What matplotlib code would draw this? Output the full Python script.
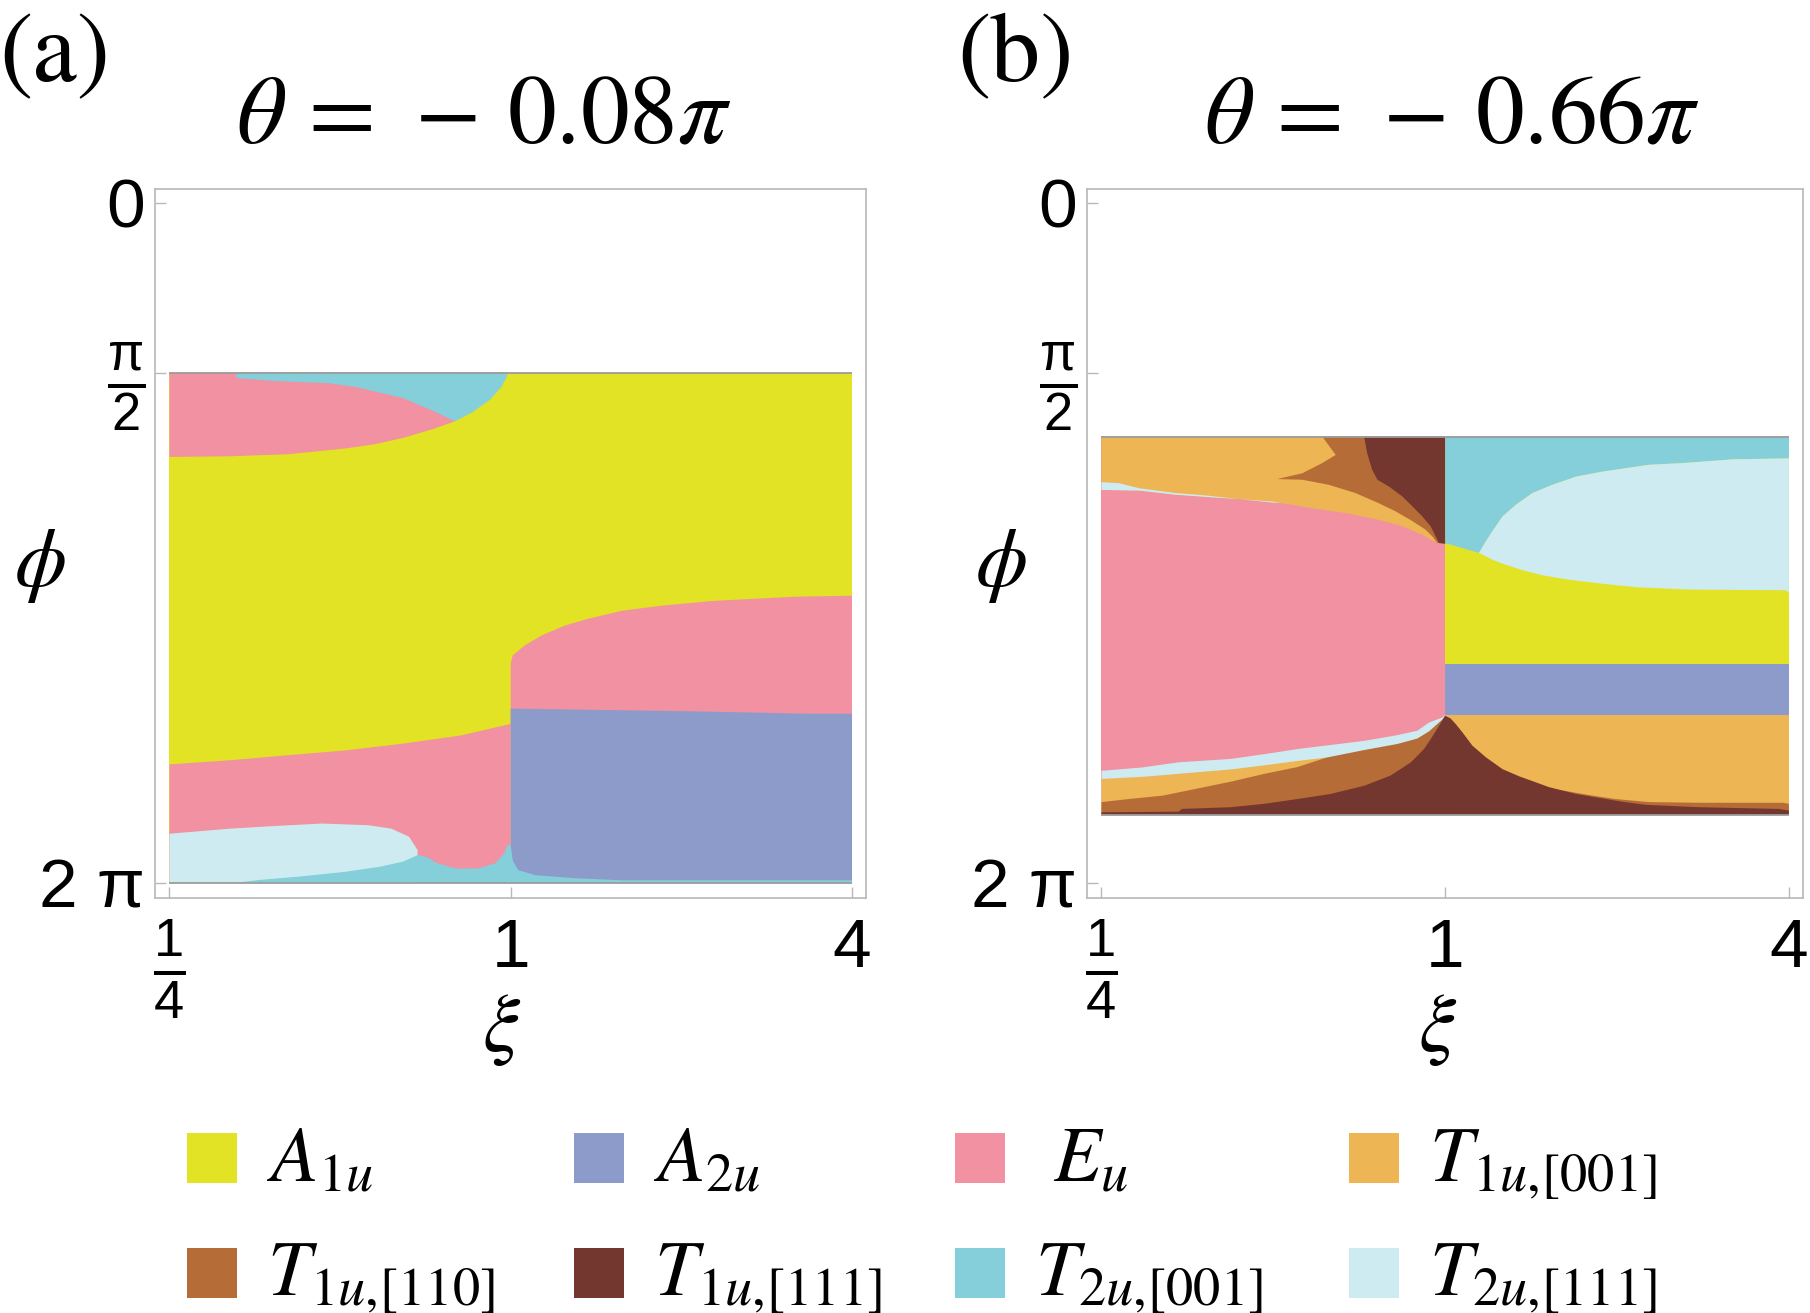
import numpy as np
import matplotlib
matplotlib.use("Agg")
import matplotlib.pyplot as plt
from matplotlib import font_manager
from matplotlib.patches import Rectangle
from matplotlib.ticker import NullLocator

names = {f.name for f in font_manager.fontManager.ttflist}
SANS = 'Liberation Sans Narrow' if 'Liberation Sans Narrow' in names else 'Liberation Sans'
plt.rcParams['mathtext.fontset'] = 'custom'
plt.rcParams['mathtext.rm'] = SANS
plt.rcParams['mathtext.it'] = SANS + ':italic'

# colours of the irreps
COLORS = {'A1u': '#e2e324', 'A2u': '#8c9bc9', 'Eu': '#f191a1', 'T1u001': '#edb553',
          'T1u110': '#b56c37', 'T1u111': '#74372f', 'T2u001': '#84cfd9', 'T2u111': '#cdebf0'}
LEGEND_KEYS = ['A1u', 'A2u', 'Eu', 'T1u001', 'T1u110', 'T1u111', 'T2u001', 'T2u111']
LEGEND_LABELS = [r'$A_{1u}$', r'$A_{2u}$', r'$E_{u}$', r'$T_{1u,\![001]}$',
                 r'$T_{1u,\![110]}$', r'$T_{1u,\![111]}$', r'$T_{2u,\![001]}$', r'$T_{2u,\![111]}$']
TITLES = [r'$\theta\,=\,-\,0.08\pi$', r'$\theta\,=\,-\,0.66\pi$']

# ---- panel (a): phase boundaries, xi and phi/pi ----
A_XI = [0.25, 4.0]
A_PHI = [0.5, 2.0]
# yellow / pink, lower left
XI_A_YP_L = [0.25, 0.320, 0.405, 0.511, 0.646, 0.817, 1.0]
PH_A_YP_L = [1.652, 1.640, 1.625, 1.611, 1.591, 1.567, 1.533]
# yellow / pink, right
XI_A_YP_R = [1.0, 1.008, 1.057, 1.133, 1.245, 1.368, 1.574, 1.853, 2.288, 3.178, 4.0]
PH_A_YP_R = [1.356, 1.332, 1.303, 1.273, 1.244, 1.224, 1.200, 1.185, 1.171, 1.159, 1.156]
# pink / yellow, upper left
XI_A_PT = [0.25, 0.320, 0.405, 0.511, 0.574, 0.646, 0.726, 0.798]
PH_A_PT = [0.748, 0.746, 0.740, 0.723, 0.711, 0.692, 0.667, 0.643]
# cyan wedge at the top
XI_A_CW_LO = [0.328, 0.386, 0.477, 0.536, 0.646, 0.726, 0.798]
PH_A_CW_LO = [0.516, 0.525, 0.531, 0.543, 0.575, 0.611, 0.643]
XI_A_CW_HI = [0.798, 0.855, 0.919, 0.962, 0.986]
PH_A_CW_HI = [0.643, 0.617, 0.580, 0.543, 0.510]
# pink / blue
XI_A_PB = [1.0, 2.085, 3.33, 4.0]
PH_A_PB = [1.488, 1.496, 1.503, 1.503]
# pink / light cyan
XI_A_LC = [0.25, 0.320, 0.386, 0.465, 0.561, 0.616, 0.662, 0.685]
PH_A_LC = [1.856, 1.841, 1.833, 1.826, 1.831, 1.841, 1.865, 1.904]
# top of the cyan strip at the bottom
XI_A_CB = [0.328, 0.360, 0.424, 0.511, 0.588, 0.646, 0.685, 0.710, 0.743, 0.798, 0.877,
           0.939, 0.974, 0.986, 1.0, 1.008, 1.031, 1.107, 1.305, 1.574, 4.0]
PH_A_CB = [2.0, 1.992, 1.982, 1.968, 1.953, 1.938, 1.919, 1.924, 1.943, 1.958, 1.958,
           1.943, 1.914, 1.890, 1.890, 1.934, 1.963, 1.978, 1.987, 1.993, 1.993]

# ---- panel (b) ----
B_XI = [0.25, 4.0]
B_PHI = [0.688, 1.80]
# pink top (orange / light cyan above it)
XI_B_PK_T = [0.25, 0.291, 0.337, 0.385, 0.435, 0.498, 0.518, 0.585, 0.669, 0.765, 0.841, 0.912, 0.969, 1.0]
PH_B_PK_T = [0.845, 0.847, 0.859, 0.866, 0.872, 0.882, 0.884, 0.899, 0.913, 0.933, 0.952, 0.977, 1.001, 1.003]
# thin light cyan sliver above pink
XI_B_LC_T = [0.25, 0.268, 0.291, 0.337, 0.385, 0.435, 0.498, 0.518]
PH_B_LC_T = [0.822, 0.825, 0.840, 0.854, 0.862, 0.872, 0.879, 0.884]
# brown wedge, upper left
XI_B_BR_UP = [0.508, 0.562, 0.609, 0.643, 0.609]
PH_B_BR_UP = [0.813, 0.796, 0.766, 0.742, 0.688]
XI_B_BR_LO = [0.508, 0.562, 0.626, 0.696, 0.765, 0.819, 0.877, 0.924, 0.950, 0.969, 1.0]
PH_B_BR_LO = [0.813, 0.815, 0.830, 0.854, 0.884, 0.908, 0.937, 0.962, 0.982, 1.001, 1.003]
# dark brown, upper left
XI_B_DB_T = [0.721, 0.730, 0.745, 0.761, 0.797, 0.841, 0.877, 0.912, 0.943, 0.975, 1.0]
PH_B_DB_T = [0.688, 0.737, 0.786, 0.815, 0.835, 0.864, 0.894, 0.923, 0.952, 1.001, 1.003]
# cyan / light cyan, right
XI_B_CL = [1.146, 1.178, 1.209, 1.260, 1.329, 1.422, 1.541, 1.693, 1.887, 2.071, 2.275, 2.606, 3.187, 4.0]
PH_B_CL = [1.030, 0.996, 0.967, 0.923, 0.889, 0.854, 0.830, 0.806, 0.791, 0.781, 0.771, 0.766, 0.755, 0.752]
XI_B_CY = [1.0, 1.072, 1.146]
PH_B_CY = [1.001, 1.016, 1.030]
# light cyan / yellow, right
XI_B_LY = [1.146, 1.209, 1.276, 1.366, 1.480, 1.647, 1.887, 2.158, 2.676, 3.95, 4.0]
PH_B_LY = [1.030, 1.050, 1.065, 1.081, 1.096, 1.109, 1.121, 1.131, 1.138, 1.140, 1.148]
# flat bands, right
PH_B_BLUE = [1.356, 1.508]
# pink bottom, left
XI_B_PK_B = [0.25, 0.295, 0.341, 0.421, 0.482, 0.551, 0.630, 0.721, 0.825, 0.894, 0.937, 0.989, 1.0]
PH_B_PK_B = [1.671, 1.661, 1.646, 1.636, 1.622, 1.607, 1.595, 1.583, 1.566, 1.553, 1.529, 1.514, 1.507]
# light cyan / orange, lower left
XI_B_LO = [0.25, 0.299, 0.351, 0.421, 0.482, 0.551, 0.620]
PH_B_LO = [1.695, 1.688, 1.678, 1.667, 1.655, 1.642, 1.632]
# top of brown, lower left
XI_B_BR_B = [0.25, 0.279, 0.320, 0.366, 0.421, 0.482, 0.551, 0.620, 0.721, 0.825, 0.894, 0.937, 0.989, 1.0]
PH_B_BR_B = [1.763, 1.754, 1.744, 1.724, 1.703, 1.680, 1.660, 1.632, 1.610, 1.592, 1.576, 1.555, 1.520, 1.509]
# thin brown band, lower right
XI_B_BR_R = [1.520, 1.647, 1.813, 1.988, 2.275, 2.786, 3.90, 4.0]
PH_B_BR_R = [1.722, 1.732, 1.744, 1.754, 1.763, 1.765, 1.765, 1.768]
# dark brown, bottom
XI_B_DB_B = [0.25, 0.341, 0.346, 0.421, 0.482, 0.551, 0.630, 0.721, 0.802, 0.871, 0.918, 0.943, 0.975, 1.0,
             1.022, 1.044, 1.072, 1.116, 1.178, 1.260, 1.347, 1.442, 1.520, 1.693, 1.835, 2.045, 2.247,
             2.786, 3.848, 4.0]
PH_B_DB_B = [1.793, 1.791, 1.783, 1.778, 1.768, 1.754, 1.739, 1.715, 1.685, 1.646, 1.607, 1.578, 1.539, 1.509,
             1.517, 1.534, 1.558, 1.597, 1.631, 1.666, 1.687, 1.705, 1.719, 1.739, 1.749, 1.762, 1.771,
             1.778, 1.783, 1.788]


def region(ax, xi, ph, key):
    ax.fill(xi, np.pi * np.asarray(ph), color=COLORS[key], lw=0, antialiased=True)


W, H = 1810, 1313
fig = plt.figure(figsize=(W / 100, H / 100), dpi=100)
ax_a = fig.add_axes([155 / W, 1 - 898 / H, 711 / W, 709 / H])
ax_b = fig.add_axes([1087 / W, 1 - 898 / H, 716 / W, 709 / H])

#------ panel (a)
ax = ax_a
region(ax, [0.25, 4, 4, 0.25], [0.5, 0.5, 2, 2], 'A1u')
region(ax, XI_A_YP_L + [1.0, 0.25], PH_A_YP_L + [2, 2], 'Eu')
region(ax, XI_A_YP_R + [4.0, 1.0], PH_A_YP_R + [2, 2], 'Eu')
region(ax, [0.25, 0.798] + XI_A_PT[::-1], [0.5, 0.5] + PH_A_PT[::-1], 'Eu')
region(ax, [0.328] + XI_A_CW_LO + XI_A_CW_HI[1:] + [0.986], [0.5] + PH_A_CW_LO + PH_A_CW_HI[1:] + [0.5], 'T2u001')
region(ax, XI_A_PB + [4.0, 1.0], PH_A_PB + [2, 2], 'A2u')
region(ax, XI_A_LC + [0.685, 0.25], PH_A_LC + [2, 2], 'T2u111')
region(ax, XI_A_CB + [4.0], PH_A_CB + [2.0], 'T2u001')
ax.hlines(np.pi * np.array(A_PHI), A_XI[0], A_XI[1], color='#9c9c9c', lw=1.3)

#------ panel (b)
ax = ax_b
region(ax, [0.25, 1, 1, 0.25], [B_PHI[0], B_PHI[0], B_PHI[1], B_PHI[1]], 'Eu')
region(ax, [1, 4, 4, 1], [B_PHI[0], B_PHI[0], B_PHI[1], B_PHI[1]], 'A1u')
region(ax, [0.25, 1.0] + XI_B_PK_T[::-1], [0.688, 0.688] + PH_B_PK_T[::-1], 'T1u001')
region(ax, XI_B_LC_T + XI_B_PK_T[:7][::-1], PH_B_LC_T + PH_B_PK_T[:7][::-1], 'T2u111')
region(ax, XI_B_BR_UP + [1.0] + XI_B_BR_LO[::-1], PH_B_BR_UP + [0.688] + PH_B_BR_LO[::-1], 'T1u110')
region(ax, [1.0] + XI_B_DB_T[::-1], [0.688] + PH_B_DB_T[::-1], 'T1u111')
region(ax, [1.0, 4.0] + XI_B_CL[::-1] + XI_B_CY[::-1][1:], [0.688, 0.688] + PH_B_CL[::-1] + PH_B_CY[::-1][1:], 'T2u001')
region(ax, XI_B_CL + XI_B_LY[::-1], PH_B_CL + PH_B_LY[::-1], 'T2u111')
region(ax, [1, 4, 4, 1], [PH_B_BLUE[0], PH_B_BLUE[0], PH_B_BLUE[1], PH_B_BLUE[1]], 'A2u')
region(ax, [1, 4, 4, 1], [PH_B_BLUE[1], PH_B_BLUE[1], B_PHI[1], B_PHI[1]], 'T1u001')
region(ax, XI_B_PK_B + [1.0, 0.25], PH_B_PK_B + [B_PHI[1], B_PHI[1]], 'T2u111')
region(ax, XI_B_LO + [0.620, 0.25], PH_B_LO + [B_PHI[1], B_PHI[1]], 'T1u001')
region(ax, XI_B_BR_B + [1.0, 0.25], PH_B_BR_B + [B_PHI[1], B_PHI[1]], 'T1u110')
region(ax, XI_B_BR_R + [4.0, 1.520], PH_B_BR_R + [B_PHI[1], B_PHI[1]], 'T1u110')
region(ax, XI_B_DB_B + [4.0, 0.25], PH_B_DB_B + [B_PHI[1], B_PHI[1]], 'T1u111')
ax.hlines(np.pi * np.array(B_PHI), B_XI[0], B_XI[1], color='#9c9c9c', lw=1.3)

#------ axes styling
for i, ax in enumerate([ax_a, ax_b]):
    ax.set_xscale('log', base=4)
    ax.set_xlim(0.2358, 4.234)
    ax.set_ylim(2.045 * np.pi, -0.04 * np.pi)
    ax.xaxis.set_minor_locator(NullLocator())
    ax.yaxis.set_minor_locator(NullLocator())
    for s in ax.spines.values():
        s.set_color('#b8b8b8')
        s.set_linewidth(1.2)
    ax.set_xticks([0.25, 1, 4])
    ax.set_xticklabels([r'$\frac{1}{4}$', '1', '4'])
    ax.set_yticks([0, np.pi / 2, 2 * np.pi])
    ax.set_yticklabels(['0', r'$\frac{\mathrm{\pi}}{2}$', '2 π'])
    ax.tick_params(direction='in', length=8, width=1, color='#b8b8b8')
    ax.tick_params(axis='y', pad=7)
    ax.tick_params(axis='x', pad=14)
    for lbl in ax.get_xticklabels() + ax.get_yticklabels():
        lbl.set_family([SANS, 'DejaVu Sans'])
        lbl.set_fontsize(50)
    ax.get_xticklabels()[0].set_fontsize(56)
    ax.get_yticklabels()[1].set_fontsize(54)
    ax.set_xlabel(r'$\xi$', fontsize=60, math_fontfamily='stix', va='center')
    ax.set_ylabel(r'$\phi$', fontsize=60, math_fontfamily='stix', rotation=0, va='center', ha='center')
    ax.text([0.463, 0.510][i], 1.103, TITLES[i], transform=ax.transAxes, ha='center', va='center',
            fontsize=70, math_fontfamily='stix')

ax_a.xaxis.set_label_coords(0.487, -0.183)
ax_b.xaxis.set_label_coords(0.49, -0.183)
ax_a.yaxis.set_label_coords(-0.162, 0.47)
ax_b.yaxis.set_label_coords(-0.120, 0.47)

fig.text(55 / W, 1 - 58 / H, '(a)', family='STIXGeneral', fontsize=72, ha='center', va='center')
fig.text(1015 / W, 1 - 58 / H, '(b)', family='STIXGeneral', fontsize=72, ha='center', va='center')

#------ legend
col_x = [187, 574, 955, 1349]
row_y = [1133, 1248]
for k, (key, label) in enumerate(zip(LEGEND_KEYS, LEGEND_LABELS)):
    x0 = col_x[k % 4]
    y0 = row_y[k // 4]
    fig.add_artist(Rectangle((x0 / W, 1 - (y0 + 50) / H), 50 / W, 50 / H,
                             transform=fig.transFigure, color=COLORS[key], lw=0))
    dx = 98 if key == 'Eu' else 80
    fig.text((x0 + dx) / W, 1 - (y0 + 48) / H, label, fontsize=56, math_fontfamily='stix',
             ha='left', va='baseline')

fig.savefig('out.png', dpi=100, facecolor='white')
